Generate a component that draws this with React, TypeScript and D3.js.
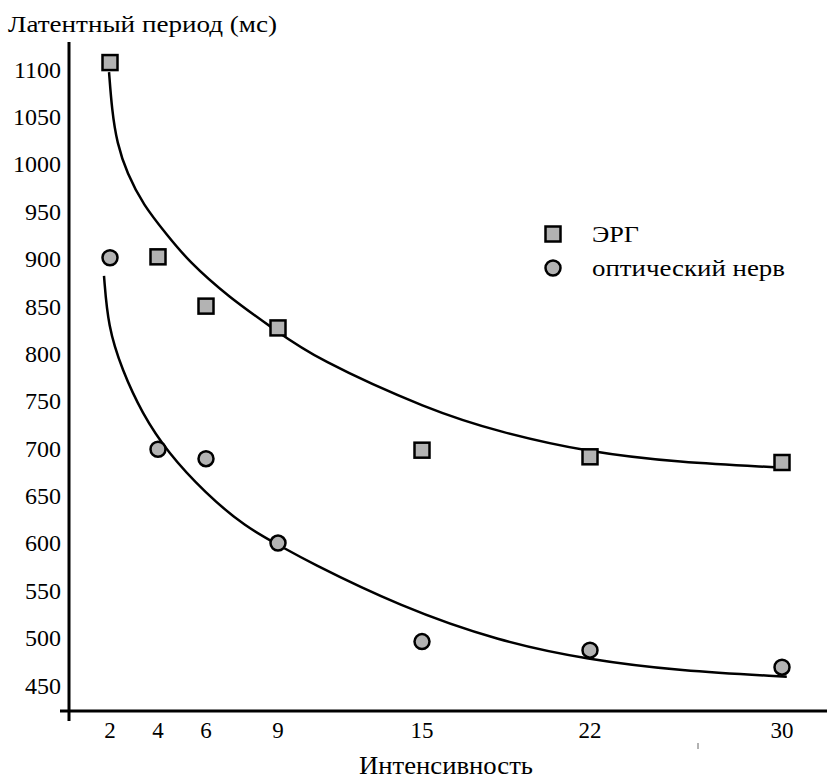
import React from 'react'
import * as d3 from 'd3'

// measured points
const intensity = [2, 4, 6, 9, 15, 22, 30]
const ergValues = [1107, 902, 850, 827, 698, 691, 685]
const nerveValues = [901, 699, 689, 600, 496, 487, 469]

// fitted curves
const ergFitX = [1.96, 2.08, 2.29, 2.71, 3.38, 4.38, 5.25, 6.92, 8.88, 10.54, 15.33, 18.25, 21.9, 25.75, 29.7]
const ergFitY = [1097, 1057, 1022, 990, 957, 925, 898, 860, 825, 795, 740, 717, 696, 685, 680]
const nerveFitX = [1.75, 1.92, 2.5, 3.33, 4.42, 5.96, 7.63, 9.17, 10.13, 14.08, 18.25, 21.9, 25.75, 30.2]
const nerveFitY = [882, 828, 783, 737, 695, 653, 617, 596, 582, 533, 496, 477, 465, 459]

const xTicks = [2, 4, 6, 9, 15, 22, 30]
const yTicks = [1100, 1050, 1000, 950, 900, 850, 800, 750, 700, 650, 600, 550, 500, 450]

const yTitle = 'Латентный период (мс)'
const xTitle = 'Интенсивность'
const legendLabels = ['ЭРГ', 'оптический нерв']

const W = 827
const H = 778
const font = 'Liberation Serif, DejaVu Serif, serif'
const markFill = '#b3b3b3'

export default function App() {
  const x = d3.scaleLinear().domain([2, 30]).range([110, 782])
  const y = d3.scaleLinear().domain([450, 1100]).range([685.2, 69.2])

  const line = d3.line<[number, number]>()
    .x(d => x(d[0]))
    .y(d => y(d[1]))
    .curve(d3.curveBasis)

  const ergFit = line(ergFitX.map((v, i) => [v, ergFitY[i]] as [number, number])) || ''
  const nerveFit = line(nerveFitX.map((v, i) => [v, nerveFitY[i]] as [number, number])) || ''

  const axisX = 69
  const axisY = 711
  const sq = 15
  const txt = { fontFamily: font }

  return (
    <svg width={W} height={H} style={{ position: 'absolute', left: 0, top: 0, background: '#fff' }}>
      <text x={8} y={32} fontSize={24} textLength={269} lengthAdjust="spacingAndGlyphs" style={txt}>{yTitle}</text>

      {/* axes */}
      <line x1={axisX} x2={axisX} y1={42} y2={721} stroke="#000" strokeWidth={3} />
      <line x1={60} x2={827} y1={axisY} y2={axisY} stroke="#000" strokeWidth={3} />
      <line x1={x(26.5)} x2={x(26.5)} y1={743} y2={749} stroke="#666" strokeWidth={1} />

      {yTicks.map(t => (
        <text key={t} x={61} y={y(t)} dy="0.35em" textAnchor="end" fontSize={24} style={txt}>{t}</text>
      ))}
      {xTicks.map(t => (
        <text key={t} x={x(t)} y={738} textAnchor="middle" fontSize={23} style={txt}>{t}</text>
      ))}
      <text x={359} y={774} fontSize={25} textLength={174} lengthAdjust="spacingAndGlyphs" style={txt}>{xTitle}</text>

      {/* fitted curves */}
      <path d={ergFit} fill="none" stroke="#000" strokeWidth={2.5} />
      <path d={nerveFit} fill="none" stroke="#000" strokeWidth={2.5} />

      {/* markers */}
      {intensity.map((v, i) => (
        <rect key={'e' + v} x={x(v) - sq / 2} y={y(ergValues[i]) - sq / 2} width={sq} height={sq}
          fill={markFill} stroke="#000" strokeWidth={2.5} />
      ))}
      {intensity.map((v, i) => (
        <circle key={'n' + v} cx={x(v)} cy={y(nerveValues[i])} r={7.5}
          fill={markFill} stroke="#000" strokeWidth={2.5} />
      ))}

      {/* legend */}
      <rect x={553 - sq / 2} y={234 - sq / 2} width={sq} height={sq} fill={markFill} stroke="#000" strokeWidth={2.5} />
      <text x={592} y={234} dy="0.35em" fontSize={23} textLength={47} lengthAdjust="spacingAndGlyphs" style={txt}>{legendLabels[0]}</text>
      <circle cx={553} cy={268} r={7.5} fill={markFill} stroke="#000" strokeWidth={2.5} />
      <text x={592} y={268} dy="0.35em" fontSize={23} textLength={193} lengthAdjust="spacingAndGlyphs" style={txt}>{legendLabels[1]}</text>
    </svg>
  )
}
